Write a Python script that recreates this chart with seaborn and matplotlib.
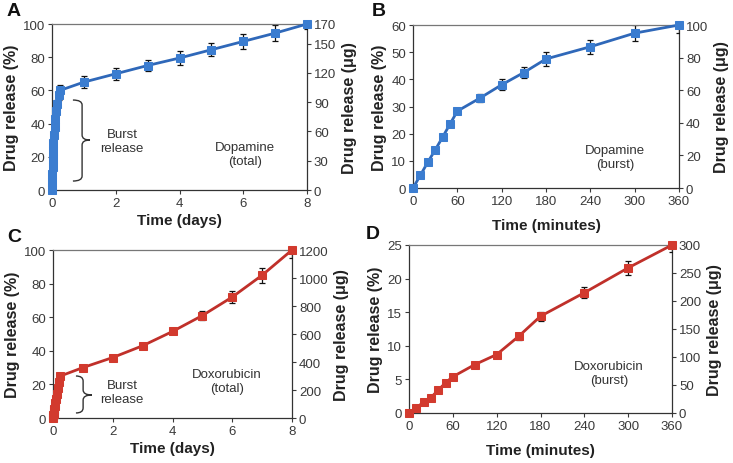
import numpy as np
import pandas as pd
import matplotlib
matplotlib.use("Agg")
import matplotlib.pyplot as plt
from matplotlib.path import Path
from matplotlib.patches import PathPatch
import seaborn as sns

# ---- data ----
burst_minutes = [0, 10, 20, 30, 40, 50, 60, 90, 120, 150, 180, 240, 300, 360]
dopa_burst = [0, 4.7, 9.5, 14.0, 18.7, 23.5, 28.3, 33.0, 38.0, 42.5, 47.5, 52.0, 57.0, 60.0]
dopa_burst_err = [0, 0.5, 0.8, 0.8, 1.0, 1.0, 1.2, 1.5, 2.0, 2.0, 2.5, 2.5, 3.0, 3.0]
doxo_burst = [0, 0.8, 1.6, 2.3, 3.4, 4.5, 5.4, 7.2, 8.7, 11.4, 14.4, 17.9, 21.6, 25.0]
doxo_burst_err = [0, 0.2, 0.2, 0.2, 0.3, 0.3, 0.3, 0.3, 0.3, 0.5, 0.7, 0.8, 1.0, 1.0]

total_days = [1, 2, 3, 4, 5, 6, 7, 8]
dopa_total = [65.0, 70.0, 75.0, 79.5, 84.5, 89.5, 94.5, 100.0]
dopa_total_err = [3.5, 3.5, 3.5, 4.0, 4.0, 4.5, 5.0, 3.0]
doxo_total = [30.0, 36.0, 43.0, 51.5, 61.0, 72.0, 85.0, 100.0]
doxo_total_err = [1.0, 1.0, 1.0, 1.5, 2.5, 3.5, 4.5, 5.0]

BLUE = "#3b7dd0"
BLUE_LINE = "#2f68b9"
RED = "#d23a2e"
RED_LINE = "#c0302a"

sns.set_style("ticks")
plt.rcParams["font.family"] = ["Liberation Sans", "DejaVu Sans"]

fig = plt.figure(figsize=(7.33, 4.64), dpi=100)
W, H = 733, 464

def make_ax(l, r, t, b):
    return fig.add_axes([l / W, 1 - b / H, (r - l) / W, (b - t) / H])

def style(ax, ax2, xlim, ylim, yticks, y2lim, y2ticks, xticks, xlabel):
    ax.set_xlim(*xlim)
    ax.set_ylim(*ylim)
    ax.set_yticks(yticks)
    ax.set_xticks(xticks)
    ax2.set_ylim(*y2lim)
    ax2.set_yticks(y2ticks)
    for a in (ax, ax2):
        a.tick_params(labelsize=9.5, colors="#3a3a3a", length=3, width=0.8, pad=2)
        for s in a.spines.values():
            s.set_linewidth(0.9)
            s.set_color("#333333")
    ax.spines["top"].set_visible(True)
    ax.spines["top"].set_color("#777777")
    ax.spines["right"].set_visible(False)
    ax2.spines["top"].set_visible(False)
    ax2.spines["left"].set_visible(False)
    ax2.spines["bottom"].set_visible(False)
    ax.set_xlabel(xlabel, fontsize=11, fontweight="bold", color="#222222", labelpad=3)
    ax.set_ylabel("Drug release (%)", fontsize=11.5, fontweight="bold", color="#222222", labelpad=3)
    ax2.set_ylabel("Drug release (\u03bcg)", fontsize=11.5, fontweight="bold", color="#222222", labelpad=4)
    ax2.set_zorder(0)
    ax.set_zorder(1)
    ax.patch.set_visible(False)

def draw(ax, x, y, err, mc, lc):
    df = pd.DataFrame({"x": x, "y": y})
    ax.errorbar(x, y, yerr=err, fmt="none", ecolor="#111111", elinewidth=0.9,
                capsize=2.5, capthick=0.9, zorder=2)
    sns.lineplot(data=df, x="x", y="y", ax=ax, color=lc, linewidth=2.0,
                 marker="s", markersize=6.2, markerfacecolor=mc,
                 markeredgecolor=mc, sort=False, zorder=3, clip_on=False)
    ax.set_xlabel("")
    ax.set_ylabel("")

def brace(ax, x, xl, xt, ytop, ybot, ymid):
    d = 0.03
    verts = [
        (xl, ytop), (x, ytop), (x, ytop - d),
        (x, ymid + d),
        (x, ymid), (xt, ymid),
        (x, ymid), (x, ymid - d),
        (x, ybot + d),
        (x, ybot), (xl, ybot),
    ]
    codes = [Path.MOVETO, Path.CURVE3, Path.CURVE3,
             Path.LINETO,
             Path.CURVE3, Path.CURVE3,
             Path.CURVE3, Path.CURVE3,
             Path.LINETO,
             Path.CURVE3, Path.CURVE3]
    p = PathPatch(Path(verts, codes), transform=ax.transAxes, fill=False,
                  edgecolor="#333333", lw=1.0, clip_on=False)
    ax.add_patch(p)

# Panel A
axA = make_ax(52, 307, 25, 191)
axA2 = axA.twinx()
dA_x = [m / 1440 for m in burst_minutes] + total_days
draw(axA, dA_x, dopa_burst + dopa_total, dopa_burst_err + dopa_total_err, BLUE, BLUE_LINE)
style(axA, axA2, (0, 8), (0, 100), [0, 20, 40, 60, 80, 100],
      (0, 170), [0, 30, 60, 90, 120, 150, 170], [0, 2, 4, 6, 8], "Time (days)")
brace(axA, 0.118, 0.082, 0.149, 0.542, 0.054, 0.301)
axA.text(0.275, 0.295, "Burst\nrelease", transform=axA.transAxes, ha="center", va="center",
         fontsize=9.5, color="#333333", linespacing=1.2)
axA.text(0.757, 0.217, "Dopamine\n(total)", transform=axA.transAxes, ha="center", va="center",
         fontsize=9.5, color="#333333", linespacing=1.2)

# Panel B
axB = make_ax(413, 679, 26, 189)
axB2 = axB.twinx()
draw(axB, burst_minutes, dopa_burst, dopa_burst_err, BLUE, BLUE_LINE)
style(axB, axB2, (0, 360), (0, 60), [0, 10, 20, 30, 40, 50, 60],
      (0, 100), [0, 20, 40, 60, 80, 100], [0, 60, 120, 180, 240, 300, 360], "Time (minutes)")
axB.xaxis.labelpad = 8
axB.text(0.76, 0.19, "Dopamine\n(burst)", transform=axB.transAxes, ha="center", va="center",
         fontsize=9.5, color="#333333", linespacing=1.2)

# Panel C
axC = make_ax(53, 292, 251, 419)
axC2 = axC.twinx()
dC_x = [m / 1440 for m in burst_minutes] + total_days
draw(axC, dC_x, doxo_burst + doxo_total, doxo_burst_err + doxo_total_err, RED, RED_LINE)
style(axC, axC2, (0, 8), (0, 100), [0, 20, 40, 60, 80, 100],
      (0, 1200), [0, 200, 400, 600, 800, 1000, 1200], [0, 2, 4, 6, 8], "Time (days)")
brace(axC, 0.126, 0.096, 0.163, 0.25, 0.03, 0.137)
axC.text(0.289, 0.155, "Burst\nrelease", transform=axC.transAxes, ha="center", va="center",
         fontsize=9.5, color="#333333", linespacing=1.2)
axC.text(0.728, 0.22, "Doxorubicin\n(total)", transform=axC.transAxes, ha="center", va="center",
         fontsize=9.5, color="#333333", linespacing=1.2)

# Panel D
axD = make_ax(409, 672, 246, 414)
axD2 = axD.twinx()
draw(axD, burst_minutes, doxo_burst, doxo_burst_err, RED, RED_LINE)
style(axD, axD2, (0, 360), (0, 25), [0, 5, 10, 15, 20, 25],
      (0, 300), [0, 50, 100, 150, 200, 250, 300], [0, 60, 120, 180, 240, 300, 360], "Time (minutes)")
axD.xaxis.labelpad = 8
axD.text(0.76, 0.24, "Doxorubicin\n(burst)", transform=axD.transAxes, ha="center", va="center",
         fontsize=9.5, color="#333333", linespacing=1.2)

# Panel letters
for lab, (px, py) in zip("ABCD", [(7, 12), (372, 12), (7, 238), (366, 235)]):
    fig.text(px / W, 1 - py / H, lab, fontsize=14, fontweight="bold", color="#111111",
             ha="left", va="center")

fig.savefig("out.png", dpi=100)
